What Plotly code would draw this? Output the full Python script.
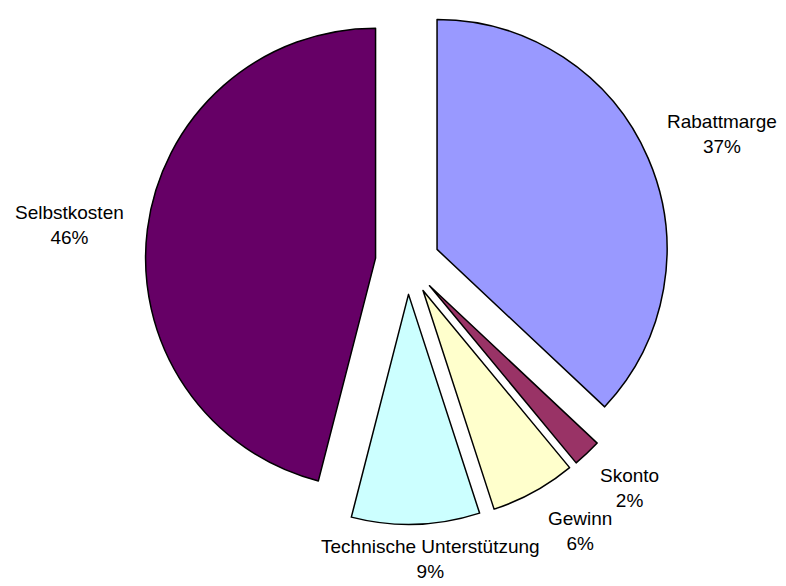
import plotly.graph_objects as go

labels = ["Rabattmarge", "Skonto", "Gewinn", "Technische Unterstützung", "Selbstkosten"]
values = [37, 2, 6, 9, 46]
colors = ["#9999FF", "#993366", "#FFFFCC", "#CCFFFF", "#660066"]

# label centres in paper coords (Excel-style placement, no leader lines)
label_x = [0.9186, 0.8015, 0.7379, 0.5483, 0.0878]
label_y = [0.7713, 0.1672, 0.0939, 0.0460, 0.6160]

total = sum(values)

fig = go.Figure(go.Pie(
    labels=labels,
    values=values,
    sort=False,
    direction="clockwise",
    rotation=0,
    pull=0.14,
    marker=dict(colors=colors, line=dict(color="black", width=1.5)),
    textinfo="none",
    domain=dict(x=[0.1849, 0.8520], y=[0.1051, 1.0]),
    hoverinfo="label+percent",
))

for lab, val, x, y in zip(labels, values, label_x, label_y):
    fig.add_annotation(
        x=x, y=y, xref="paper", yref="paper",
        text=f"{lab}<br>{round(val / total * 100)}%",
        showarrow=False, align="center",
        xanchor="center", yanchor="middle",
        font=dict(family="Liberation Sans, Arial", size=19, color="black"),
    )

fig.update_layout(
    width=786,
    height=586,
    margin=dict(l=0, r=0, t=0, b=0),
    showlegend=False,
    paper_bgcolor="white",
    plot_bgcolor="white",
)

# drop the default 8px body margin so the figure fills the window exactly
fig.write_html("out.html", config={"displayModeBar": False},
               post_script="document.body.style.margin='0';")
